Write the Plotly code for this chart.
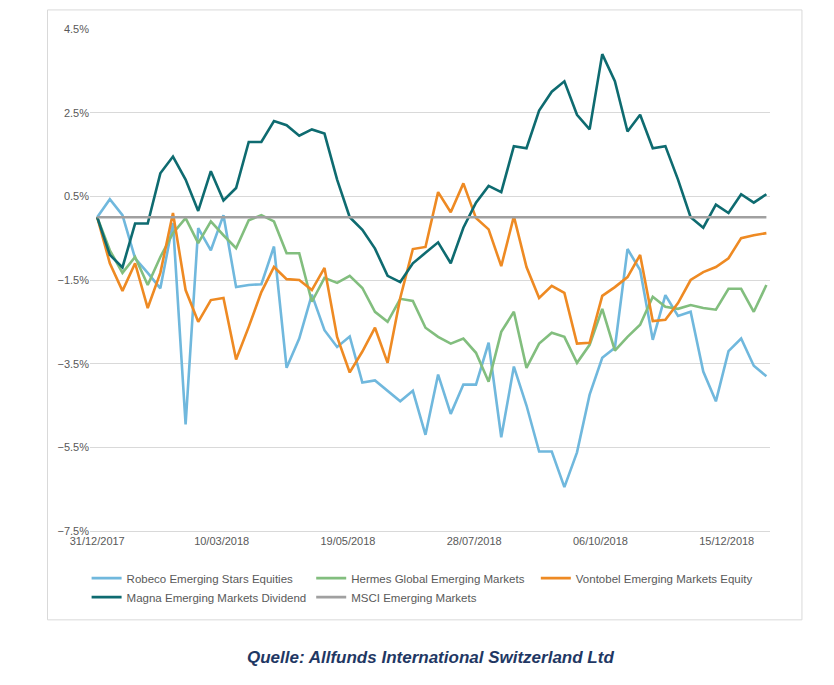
import plotly.graph_objects as go
import pandas as pd

dates = pd.date_range("2017-12-31", periods=54, freq="7D")
tick_dates = ["2017-12-31", "2018-03-10", "2018-05-19", "2018-07-28", "2018-10-06", "2018-12-15"]
tick_labels = ["31/12/2017", "10/03/2018", "19/05/2018", "28/07/2018", "06/10/2018", "15/12/2018"]

robeco = [0, 0.43, 0.05, -0.98, -1.33, -1.7, -0.14, -4.95, -0.26, -0.79,
          0.05, -1.67, -1.62, -1.6, -0.7, -3.6, -2.9, -1.85, -2.7, -3.1,
          -2.85, -3.95, -3.9, -4.15, -4.4, -4.15, -5.2, -3.76, -4.7, -4.0,
          -4.0, -3.0, -5.26, -3.57, -4.5, -5.6, -5.6, -6.45, -5.62, -4.24,
          -3.36, -3.12, -0.76, -1.26, -2.93, -1.86, -2.36, -2.26, -3.69, -4.4,
          -3.2, -2.9, -3.55, -3.8]
hermes = [0, -0.79, -1.33, -0.95, -1.62, -0.95, -0.38, -0.02, -0.62, -0.1,
          -0.43, -0.74, -0.07, 0.05, -0.1, -0.86, -0.86, -2.02, -1.45, -1.57,
          -1.4, -1.69, -2.26, -2.5, -1.95, -2.0, -2.64, -2.86, -3.02, -2.9,
          -3.24, -3.93, -2.74, -2.26, -3.6, -3.02, -2.76, -2.86, -3.48, -3.05,
          -2.19, -3.19, -2.86, -2.57, -1.9, -2.14, -2.19, -2.1, -2.17, -2.21,
          -1.71, -1.71, -2.26, -1.62]
vontobel = [0, -1.1, -1.76, -1.1, -2.17, -1.33, 0.1, -1.74, -2.5, -1.98,
            -1.93, -3.4, -2.62, -1.79, -1.19, -1.48, -1.5, -1.74, -1.21, -2.86,
            -3.71, -3.21, -2.64, -3.48, -1.93, -0.76, -0.71, 0.6, 0.12, 0.81,
            -0.02, -0.29, -1.17, 0.02, -1.19, -1.93, -1.64, -1.81, -3.02, -3.0,
            -1.88, -1.67, -1.43, -0.9, -2.48, -2.45, -2.05, -1.5, -1.31, -1.19,
            -0.98, -0.5, -0.43, -0.38]
magna = [0, -0.9, -1.2, -0.15, -0.15, 1.05, 1.45, 0.9, 0.15, 1.1,
         0.4, 0.7, 1.8, 1.8, 2.3, 2.2, 1.95, 2.1, 2.0, 0.9,
         0.0, -0.3, -0.75, -1.4, -1.55, -1.1, -0.85, -0.6, -1.1, -0.25,
         0.35, 0.75, 0.6, 1.7, 1.65, 2.55, 3.0, 3.25, 2.45, 2.1,
         3.9, 3.25, 2.05, 2.45, 1.65, 1.7, 0.9, 0.0, -0.25, 0.3,
         0.1, 0.55, 0.35, 0.55]
msci = [0] * 54

series = [
    ("Robeco Emerging Stars Equities", robeco, "#70B8DD"),
    ("Hermes Global Emerging Markets", hermes, "#82BE7E"),
    ("Vontobel Emerging Markets Equity", vontobel, "#EE8A23"),
    ("Magna Emerging Markets Dividend", magna, "#0E6B70"),
    ("MSCI Emerging Markets", msci, "#A0A0A0"),
]

fig = go.Figure()
for name, vals, col in series:
    fig.add_trace(go.Scatter(x=dates, y=vals, name=name, mode="lines",
                             line=dict(color=col, width=2.6)))

fig.update_layout(
    width=834, height=685,
    paper_bgcolor="white", plot_bgcolor="white",
    margin=dict(l=82, r=72, t=21, b=162),
    font=dict(family="Liberation Sans, Arial", size=11, color="#595959"),
    showlegend=True,
    legend=dict(orientation="h", x=-0.005, y=-0.065, xanchor="left", yanchor="top",
                bgcolor="rgba(0,0,0,0)", itemwidth=30,
                font=dict(family="Liberation Sans, Arial", size=11.5,
                          color="#595959"), tracegroupgap=0),
    xaxis=dict(range=[pd.Timestamp("2017-12-27"), pd.Timestamp("2019-01-08")],
               tickvals=pd.to_datetime(tick_dates), ticktext=tick_labels,
               showgrid=False, showline=True, linecolor="#D9D9D9", ticks="",
               zeroline=False),
    yaxis=dict(range=[-7.5, 4.5], tick0=-7.5, dtick=2, ticksuffix="%",
               tickformat=".1f", showgrid=True, gridcolor="#D9D9D9",
               zeroline=False, ticks=""),
    shapes=[dict(type="rect", xref="paper", yref="paper",
                 x0=-0.0625, x1=1.047, y0=-0.177, y1=1.038,
                 line=dict(color="#D9D9D9", width=1))],
    annotations=[dict(text="<b><i>Quelle: Allfunds International Switzerland Ltd</i></b>",
                      xref="paper", yref="paper", x=0.5, y=-0.275,
                      showarrow=False, font=dict(size=17, color="#1F3864"))],
)

fig.write_html("out.html")
